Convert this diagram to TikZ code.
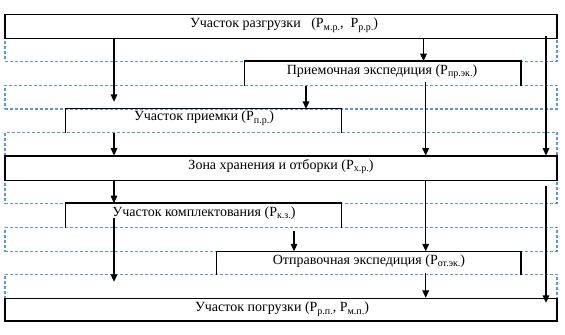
\documentclass[tikz,border=0pt]{standalone}
\usepackage{fontspec}
\setmainfont{Liberation Serif}
\usetikzlibrary{fit,calc,arrows.meta}
\definecolor{zoneblue}{RGB}{91,150,220}
\newcommand\ssb[1]{\raisebox{-0.35ex}{\fontsize{7.5}{8}\selectfont #1}}
\begin{document}
\begin{tikzpicture}[x=0.75pt,y=-0.75pt,
  box/.style={draw=black, line width=0.8pt, inner sep=0pt},
  openbox/.style={draw=none, inner sep=0pt},
  boxline/.style={draw=black, line width=0.8pt},
  zone/.style={draw=zoneblue, line width=0.8pt, dash pattern=on 2.25pt off 1.5pt, inner sep=0pt},
  lbl/.style={font=\fontsize{10.5}{12}\selectfont, inner sep=0pt, anchor=base},
  arr/.style={line width=0.8pt, -{Triangle[length=5.5pt,width=5pt]}}]
\useasboundingbox (0,0) rectangle (565,335);
% dashed zones
\node[zone, fit={(5,38.3) (557,61.3)}] (d1) {};
\node[zone, fit={(5,85.5) (557,109)}] (d2) {};
\node[zone, fit={(5,132.5) (557,203.3)}] (d3) {};
\node[zone, fit={(5,227.5) (557,251.5)}] (d4) {};
\node[zone, fit={(5,274.3) (557,298.3)}] (d5) {};
% boxes
\node[box, fit={(5,14.3) (557,38.3)}] (b1) {};
\node[openbox, fit={(245,61.3) (520.7,85.5)}] (b2) {};
\node[openbox, fit={(65.3,109) (341,132.5)}] (b3) {};
\node[box, fit={(5,156) (557,180.3)}] (b4) {};
\node[openbox, fit={(65.3,203.3) (341,227.5)}] (b5) {};
\node[openbox, fit={(217,251.5) (520.7,274.3)}] (b6) {};
\node[box, fit={(5,298.3) (557,321)}] (b7) {};
\draw[boxline] (b2.south west) -- (b2.north west) -- (b2.north east) -- (b2.south east);
\draw[boxline] (b3.south west) -- (b3.north west) -- (b3.north east) -- (b3.south east);
\draw[boxline] (b5.south west) -- (b5.north west) -- (b5.north east) -- (b5.south east);
\draw[boxline] (b6.south west) -- (b6.north west) -- (b6.north east) -- (b6.south east);
% labels
\node[lbl] (t1) at (284,27.8) {Участок разгрузки\ \ \ (Р\ssb{м.р.},\ \ Р\ssb{р.р.})};
\node[lbl] (t2) at (382,74.5) {Приемочная экспедиция (Р\ssb{пр.эк.})};
\node[lbl] (t3) at (204,121) {Участок приемки (Р\ssb{п.р.})};
\node[lbl] (t4) at (281,169.5) {Зона хранения и отборки (Р\ssb{х.р.})};
\node[lbl] (t5) at (204,216) {Участок комплектования (Р\ssb{к.з.})};
\node[lbl] (t6) at (369,264.5) {Отправочная экспедиция (Р\ssb{от.эк.})};
\node[lbl] (t7) at (282,311.8) {Участок погрузки (Р\ssb{р.п.}, Р\ssb{м.п.})};
% arrow columns
\coordinate (xa) at (114,0);
\coordinate (xb) at (423.5,0);
\coordinate (xc) at (306,0);
\coordinate (xd) at (425.7,0);
\coordinate (xe) at (546,0);
\coordinate (xf) at (294,0);
% arrows
\draw[arr] (b1.south -| xa) -- ($(b3.north -| xa)+(0,-7)$);
\draw[arr] (b3.south -| xa) -- (b4.north -| xa);
\draw[arr] (b1.south -| xb) -- (b2.north -| xb);
\draw[arr] (b2.south -| xc) -- (b3.north -| xc);
\draw[arr] ($(b2.south -| xd)+(0,-4)$) -- (b4.north -| xd);
\draw[arr] ($(b1.south -| xe)+(0,-3)$) -- (b4.north -| xe);
\draw[arr] (b4.south -| xa) -- (b5.north -| xa);
\draw[arr] (b4.south -| xd) -- (b6.north -| xd);
\draw[arr] ($(b4.south -| xe)+(0,5)$) -- ($(b7.north -| xe)+(0,5)$);
\draw[arr] ($(b5.south -| xa)+(0,-10)$) -- ($(b7.north -| xa)+(0,-16)$);
\draw[arr] ($(b5.south -| xf)+(0,3)$) -- (b6.north -| xf);
\draw[arr] ($(b6.south -| xd)+(0,-2)$) -- (b7.north -| xd);
\end{tikzpicture}
\end{document}
